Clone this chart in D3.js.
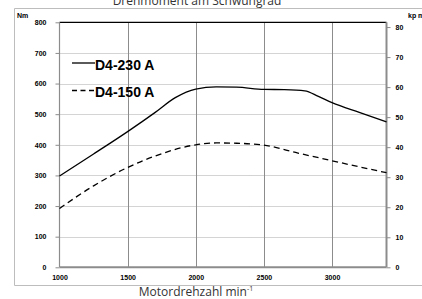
<!DOCTYPE html>
<html>
<head>
<meta charset="utf-8">
<script src="https://cdn.jsdelivr.net/npm/d3@7"></script>
<style>
  html, body { margin: 0; padding: 0; background: #fff; overflow: hidden; }
  svg { display: block; font-family: "Liberation Sans", Arial, sans-serif; }
  .tick text { font-size: 7px; font-weight: 700; fill: #000; }
</style>
</head>
<body>
<svg id="chart" width="422" height="299"></svg>
<script>
  // ─── Drehmoment am Schwungrad ───
  const rpmTicks = [1000, 1500, 2000, 2500, 3000];
  const nmTicks = [0, 100, 200, 300, 400, 500, 600, 700, 800];
  const kpmTicks = [0, 10, 20, 30, 40, 50, 60, 70, 80];

  const rpm230 = [1000, 1250, 1500, 1700, 1850, 2000, 2150, 2300, 2500, 2650, 2800, 2900, 3000, 3200, 3400];
  const nm230  = [298, 370, 443, 505, 554, 582, 589, 588, 581, 580, 576, 558, 538, 506, 475];
  const rpm150 = [1000, 1250, 1500, 1700, 2000, 2150, 2300, 2500, 2750, 3000, 3200, 3400];
  const nm150  = [192, 266, 326, 363, 400, 406, 405, 399, 373, 348, 328, 309];

  const series = [
    { name: 'D4-230 A', rpm: rpm230, nm: nm230, dash: null },
    { name: 'D4-150 A', rpm: rpm150, nm: nm150, dash: '6,4' }
  ];

  const KPM = 9.80665;
  const svg = d3.select('#chart');
  const x = d3.scaleLinear().domain([1000, 3400]).range([59.5, 386.5]);
  const y = d3.scaleLinear().domain([0, 800]).range([267.3, 22.3]);
  const yR = d3.scaleLinear().domain([0, 800 / KPM]).range([267.3, 22.3]);

  // outer frame
  svg.append('path')
    .attr('d', 'M430,8.5H14.5V285.5H430')
    .attr('fill', 'none').attr('stroke', '#bdbdbd').attr('stroke-width', 1);

  // title (cut at top edge like the original)
  svg.append('text').attr('x', 197).attr('y', 4.5).attr('text-anchor', 'middle')
    .attr('font-family', '"Open Sans", sans-serif').attr('font-size', 12).attr('fill', '#333')
    .text('Drehmoment am Schwungrad');

  // horizontal dotted grid
  svg.append('g').selectAll('line').data(nmTicks.filter(d => d > 0 && d < 800)).enter()
    .append('line')
    .attr('x1', x(1000)).attr('x2', x(3400))
    .attr('y1', d => Math.round(y(d)) + 0.5).attr('y2', d => Math.round(y(d)) + 0.5)
    .attr('stroke', '#a8a8a8').attr('stroke-width', 1).attr('stroke-dasharray', '1,1');

  // vertical grid
  svg.append('g').selectAll('line').data(rpmTicks.slice(1)).enter()
    .append('line')
    .attr('x1', d => Math.round(x(d)) + 0.5).attr('x2', d => Math.round(x(d)) + 0.5)
    .attr('y1', y(800)).attr('y2', y(0))
    .attr('stroke', '#8c8c8c').attr('stroke-width', 1);

  // top border
  svg.append('line').attr('x1', x(1000)).attr('x2', x(3400))
    .attr('y1', y(800)).attr('y2', y(800))
    .attr('stroke', '#000').attr('stroke-width', 1.3);

  // axes
  const axL = svg.append('g').attr('transform', `translate(${x(1000)},0)`)
    .call(d3.axisLeft(y).tickValues(nmTicks).tickSize(4).tickPadding(9));
  const axR = svg.append('g').attr('transform', `translate(${x(3400)},0)`)
    .call(d3.axisRight(yR).tickValues(kpmTicks).tickSize(4).tickPadding(5));
  const axB = svg.append('g').attr('transform', `translate(0,${y(0)})`)
    .call(d3.axisBottom(x).tickValues(rpmTicks).tickFormat(d3.format('d')).tickSize(0).tickPadding(8));
  [axL, axR, axB].forEach(a => {
    a.select('.domain').attr('stroke', '#8c8c8c');
    a.selectAll('.tick line').attr('stroke', '#8c8c8c');
  });
  axL.select('.domain').attr('d', `M0,${y(0)}V${y(800)}`).attr('stroke-width', 1.2);
  axR.select('.domain').attr('d', `M0,${y(0)}V${y(800)}`).attr('stroke-width', 2);
  axB.select('.domain').attr('d', `M${x(1000)},0H${x(3400)}`).attr('stroke-width', 2);

  // unit labels
  svg.append('text').attr('x', 17).attr('y', 18).attr('font-size', 7).attr('font-weight', 700).text('Nm');
  svg.append('text').attr('x', 408).attr('y', 18).attr('font-size', 7).attr('font-weight', 700).text('kp m');

  // x label
  const xl = svg.append('text').attr('x', 196).attr('y', 296).attr('text-anchor', 'middle')
    .attr('font-family', '"Open Sans", sans-serif').attr('font-size', 12).attr('fill', '#333');
  xl.append('tspan').text('Motordrehzahl min');
  xl.append('tspan').attr('font-size', 7).attr('dy', -5).text('-1');

  // curves
  const line = d3.line().x(d => x(d[0])).y(d => y(d[1])).curve(d3.curveMonotoneX);
  series.forEach(s => {
    svg.append('path')
      .datum(s.rpm.map((r, i) => [r, s.nm[i]]))
      .attr('d', line)
      .attr('fill', 'none').attr('stroke', '#000').attr('stroke-width', 1.3)
      .attr('stroke-dasharray', s.dash);
  });

  // legend
  const lg = svg.append('g').selectAll('g').data(series).enter().append('g')
    .attr('transform', (d, i) => `translate(72,${63 + i * 27.5})`);
  lg.append('line').attr('x1', 0).attr('x2', 23).attr('y1', 0).attr('y2', 0)
    .attr('stroke', '#000').attr('stroke-width', 1.3)
    .attr('stroke-dasharray', d => d.dash ? '5,3.5' : null);
  lg.append('text').attr('x', 23).attr('y', 6.5)
    .attr('font-size', 14).attr('font-weight', 700).text(d => d.name);
</script>
</body>
</html>
